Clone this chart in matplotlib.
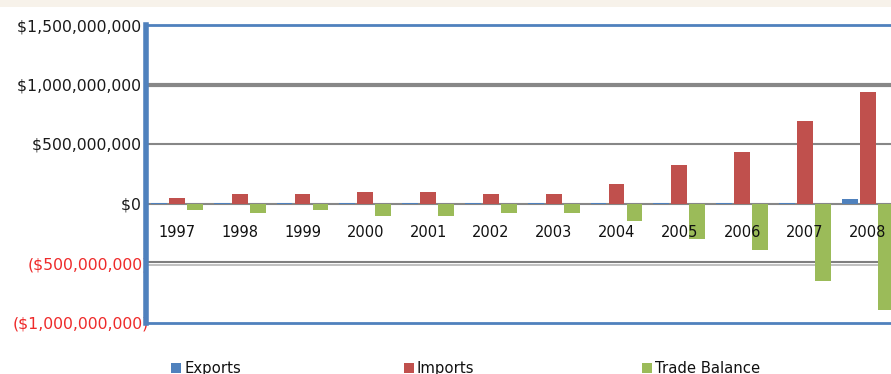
import matplotlib
matplotlib.use("Agg")
import matplotlib.pyplot as plt
from matplotlib.patches import Rectangle
import numpy as np

years = ["1997", "1998", "1999", "2000", "2001", "2002", "2003",
         "2004", "2005", "2006", "2007", "2008"]
exports = [2e6, 2e6, 2e6, 3e6, 3e6, 3e6, 3e6, 4e6, 5e6, 5e6, 6e6, 34e6]
imports = [50e6, 76e6, 76e6, 98e6, 98e6, 76e6, 76e6, 166e6, 320e6, 429e6, 696e6, 940e6]
balance = [-56e6, -78e6, -56e6, -101e6, -101e6, -78e6, -78e6, -143e6, -300e6, -390e6, -654e6, -898e6]
series_names = ["Exports", "Imports", "Trade Balance"]
series_colors = ["#4F81BD", "#C0504D", "#9BBB59"]
ytick_vals = [1.5e9, 1.0e9, 5e8, 0, -5e8, -1.0e9]

W, H = 891, 374
fig = plt.figure(figsize=(W / 100, H / 100), dpi=100)
fig.patch.set_facecolor("white")

# beige top strip
fig.patches.append(Rectangle((0, 1 - 6.5 / H), 1, 6.5 / H, transform=fig.transFigure,
                             facecolor="#F7F2EA", edgecolor="none"))

left_px, top_px, bot_px = 145.5, 25, 322.5
cat_w = 62.8
right_px = left_px + cat_w * len(years)
ax = fig.add_axes([left_px / W, 1 - bot_px / H, (right_px - left_px) / W, (bot_px - top_px) / H])
ax.set_facecolor("none")
ax.set_xlim(-0.5, len(years) - 0.5)
ax.set_ylim(-1.0e9, 1.5e9)

x = np.arange(len(years))
bw = 0.25
off = 0.287
for i, (vals, col) in enumerate(zip([exports, imports, balance], series_colors)):
    ax.bar(x + (i - 1) * off, vals, width=bw, color=col, linewidth=0, zorder=3)

# gridlines
px = 2.5e9 / (bot_px - top_px)
ax.axhline(1.0e9, color="#878787", lw=3.0, zorder=1)
ax.axhline(5e8, color="#878787", lw=1.5, zorder=1)
ax.axhline(-5e8 + 1.0 * px, color="#7f7f7f", lw=1.5, zorder=1)
ax.axhline(-5e8 - 2.2 * px, color="#b5b5b5", lw=1.2, zorder=1)
ax.axhline(-1.0e9, color="#4F81BD", lw=2.0, zorder=4, clip_on=False)

ax.spines["right"].set_visible(False)
ax.spines["top"].set_color("#4F81BD")
ax.spines["top"].set_linewidth(2.0)
ax.spines["left"].set_color("#4F81BD")
ax.spines["left"].set_linewidth(4.0)
ax.spines["left"].set_zorder(5)
ax.spines["bottom"].set_position(("data", 0))
ax.spines["bottom"].set_color("#878787")
ax.spines["bottom"].set_linewidth(1.5)
ax.spines["bottom"].set_zorder(2)

ax.set_xticks(x)
ax.set_xticklabels(years, fontsize=10.5, color="#111111", family="DejaVu Sans")
ax.tick_params(axis="x", length=0, pad=15.5)
ax.xaxis.set_zorder(6)

def fmt(v):
    if v < 0:
        return "(${:,.0f})".format(-v)
    return "${:,.0f}\u2002".format(v)

ax.set_yticks(ytick_vals)
ax.set_yticklabels([fmt(v) for v in ytick_vals], fontsize=11.3, family="DejaVu Sans")
for lab, v in zip(ax.get_yticklabels(), ytick_vals):
    lab.set_color("#EE2A2A" if v < 0 else "#1a1a1a")
ax.tick_params(axis="y", length=0, pad=-2.5)

# legend
leg_x = [171, 403.5, 642]
for nm, col, lx in zip(series_names, series_colors, leg_x):
    fig.patches.append(Rectangle((lx / W, 1 - 372.5 / H), 10 / W, 10 / H,
                                 transform=fig.transFigure, facecolor=col, edgecolor="none"))
    fig.text((lx + 13) / W, 1 - 368.5 / H, nm, fontsize=10.7, color="#111111",
             va="center", ha="left", family="DejaVu Sans")

fig.savefig("out.png", dpi=100)
